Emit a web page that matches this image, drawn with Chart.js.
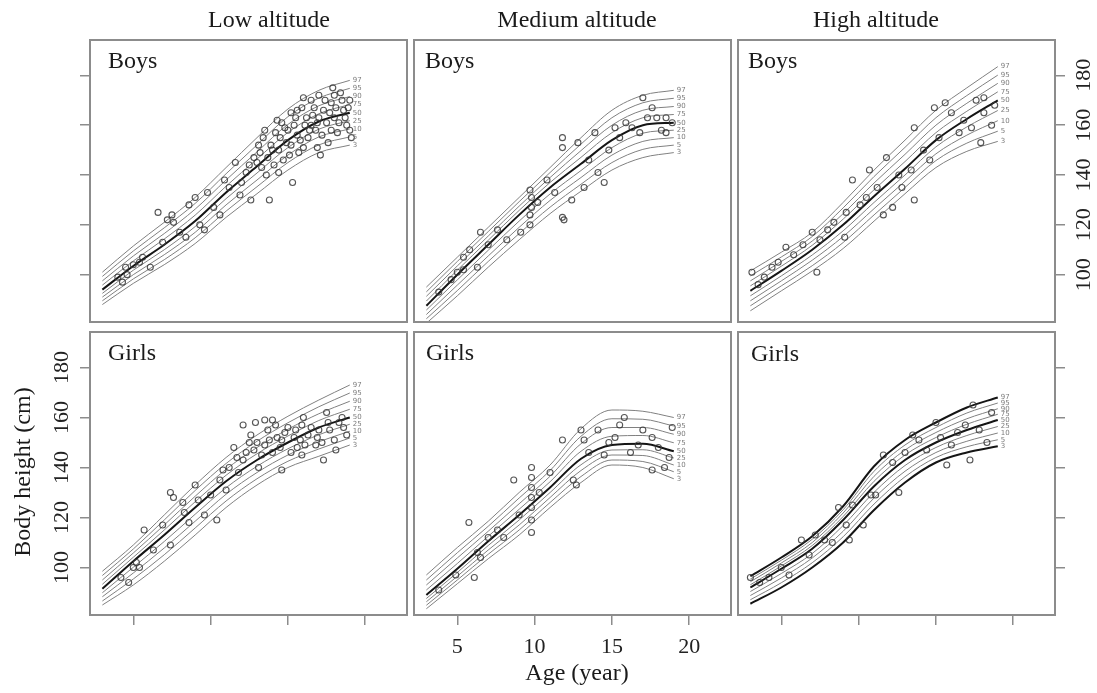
<!DOCTYPE html>
<html><head><meta charset="utf-8">
<script src="https://cdn.jsdelivr.net/npm/chart.js@4.4.1/dist/chart.umd.min.js"></script>
<style>
html,body{margin:0;padding:0;background:#fff;}
#wrap{position:relative;width:1097px;height:693px;overflow:hidden;background:#fff;}
#wrap canvas{position:absolute;left:0;top:0;}
</style></head><body><div id="wrap"></div>
<script>
// ---------- data ----------
const ages = [3, 5, 7, 9, 11, 13, 15, 17, 19];
const centileLabels = ['3', '5', '10', '25', '50', '75', '90', '95', '97'];
const xTicks = [5, 10, 15, 20];
const yTicks = [100, 120, 140, 160, 180];
const columnTitles = ['Low altitude', 'Medium altitude', 'High altitude'];
const rowLabels = ['Boys', 'Girls'];
const yTitle = 'Body height (cm)';
const xTitle = 'Age (year)';

const lowBoysCurves = [
  [88, 96.5, 104, 112.5, 123, 132.5, 142, 149, 152],
  [89.5, 98.3, 106, 114.8, 125.5, 135.3, 145, 152.1, 155.3],
  [91, 100, 108, 117, 128, 138, 148, 155.3, 158.5],
  [92.5, 101.8, 110, 119.3, 130.5, 140.8, 151, 158.4, 161.8],
  [94, 103.5, 112, 121.5, 133, 143.5, 154, 161.5, 165],
  [95.8, 105.5, 114.3, 123.9, 135.5, 146.4, 157.1, 164.6, 168.3],
  [97.5, 107.5, 116.5, 126.3, 138, 149.3, 160.3, 167.8, 171.5],
  [99.3, 109.5, 118.8, 128.6, 140.5, 152.1, 163.4, 170.9, 174.8],
  [101, 111.5, 121, 131, 143, 155, 166.5, 174, 178]
];
const medBoysCurves = [
  [80.5, 91.5, 103, 114, 124.5, 133.5, 142, 147, 149],
  [82.3, 93.6, 105.3, 116.5, 127.1, 136.3, 145, 150.3, 152],
  [84, 95.8, 107.5, 119, 129.8, 139, 148, 153.5, 155],
  [85.8, 97.9, 109.8, 121.5, 132.4, 141.8, 151, 156.8, 158],
  [87.5, 100, 112, 124, 135, 144.5, 154, 160, 161],
  [89.4, 101.8, 113.8, 125.8, 137, 147.1, 157, 163, 164.3],
  [91.3, 103.5, 115.5, 127.5, 139, 149.8, 160, 166, 167.5],
  [93.1, 105.3, 117.3, 129.3, 141, 152.4, 163, 169, 170.8],
  [95, 107, 119, 131, 143, 155, 166, 172, 174]
];
const highBoysCurves = [
  [85.5, 93.5, 101.5, 110.5, 121.5, 132.5, 143, 149.5, 153.5],
  [87.5, 95.5, 103.6, 112.9, 124, 135, 145.8, 152.8, 157.6],
  [89.5, 97.5, 105.8, 115.3, 126.5, 137.5, 148.5, 156, 161.8],
  [91.5, 99.5, 107.9, 117.6, 129, 140, 151.3, 159.3, 165.9],
  [93.5, 101.5, 110, 120, 131.5, 142.5, 154, 162.5, 170],
  [95.5, 103.4, 111.8, 122.3, 134.1, 145.4, 157, 165.6, 173.4],
  [97.5, 105.3, 113.5, 124.5, 136.8, 148.3, 160, 168.8, 176.8],
  [99.5, 107.1, 115.3, 126.8, 139.4, 151.1, 163, 171.9, 180.1],
  [101.5, 109, 117, 129, 142, 154, 166, 175, 183.5]
];
const lowGirlsCurves = [
  [85, 93, 102.5, 113, 124, 133, 140, 144.5, 149],
  [86.6, 95.4, 105.1, 115.8, 126.6, 135.5, 142.5, 147.4, 151.8],
  [88.3, 97.8, 107.8, 118.5, 129.3, 138, 145, 150.3, 154.5],
  [89.9, 100.1, 110.4, 121.3, 131.9, 140.5, 147.5, 153.1, 157.3],
  [91.5, 102.5, 113, 124, 134.5, 143, 150, 156, 160],
  [93.3, 104.1, 115, 126.3, 136.9, 145.5, 152.6, 158.8, 163.3],
  [95, 105.8, 117, 128.5, 139.3, 148, 155.3, 161.5, 166.5],
  [96.8, 107.4, 119, 130.8, 141.6, 150.5, 157.9, 164.3, 169.8],
  [98.5, 109, 121, 133, 144, 153, 160.5, 167, 173]
];
const medGirlsCurves = [
  [83.5, 93.5, 103.5, 113, 124, 134, 141, 140, 135.5],
  [84.9, 95, 105.3, 115, 126, 136.4, 143, 142.4, 138.3],
  [86.3, 96.5, 107, 117, 128, 138.8, 145, 144.8, 141],
  [87.6, 98, 108.8, 119, 130, 141.1, 147, 147.1, 143.8],
  [89, 99.5, 110.5, 121, 132, 143.5, 149, 149.5, 146.5],
  [91, 101.6, 112.5, 123.3, 134.3, 146.5, 152.5, 152.8, 149.9],
  [93, 103.8, 114.5, 125.5, 136.5, 149.5, 156, 156, 153.3],
  [95, 105.9, 116.5, 127.8, 138.8, 152.5, 159.5, 159.3, 156.6],
  [97, 108, 118.5, 130, 141, 155.5, 163, 162.5, 160]
];
const highGirlsCurves = [
  [85.5, 92, 100, 110, 123, 134, 142, 146, 148.5],
  [87.1, 93.9, 101.9, 112.3, 125.4, 136.3, 144, 148.3, 151.1],
  [88.8, 95.8, 103.8, 114.5, 127.8, 138.5, 146, 150.5, 153.8],
  [90.4, 97.6, 105.6, 116.8, 130.1, 140.8, 148, 152.8, 156.4],
  [92, 99.5, 107.5, 119, 132.5, 143, 150, 155, 159],
  [93.1, 100.6, 108.8, 120.4, 134.5, 145, 152, 157.3, 161.3],
  [94.3, 101.8, 110, 121.8, 136.5, 147, 154, 159.5, 163.5],
  [95.4, 102.9, 111.3, 123.1, 138.5, 149, 156, 161.8, 165.8],
  [96.5, 104, 112.5, 124.5, 140.5, 151, 158, 164, 168]
];

const lowBoysPoints = [[4.0,99],[4.3,97],[4.5,103],[4.6,100],[5.0,104],[5.4,105],[5.6,107],[6.1,103],[6.6,125],[6.9,113],[7.2,122],[7.5,124],[7.6,121],[8.0,117],[8.4,115],[8.6,128],[9.0,131],[9.3,120],[9.6,118],[9.8,133],[10.2,127],[10.6,124],[10.9,138],[11.2,135],[11.6,145],[11.9,132],[12.3,141],[12.6,130],[12.8,147],[13.1,152],[13.3,143],[13.6,140],[13.8,130],[14.0,150],[14.3,162],[14.5,155],[14.7,146],[15.0,158],[15.2,152],[15.3,137],[15.5,163],[15.7,149],[15.9,167],[16.1,160],[16.3,155],[16.5,170],[16.6,164],[16.8,158],[17.0,172],[17.1,148],[17.3,166],[17.5,161],[17.6,153],[17.8,169],[18.0,163],[18.2,157],[18.4,173],[18.6,166],[18.8,160],[19.0,170],[19.1,155],[15.6,156],[16.9,151],[14.8,159],[17.9,175],
  [13.0,145],[13.2,149],[13.4,155],[13.7,147],[13.9,152],[14.1,144],[14.2,157],[14.4,150],[14.6,161],[14.9,153],[15.1,148],[15.4,160],[15.6,166],[15.8,154],[16.0,151],[16.2,163],[16.4,158],[16.7,167],[16.9,161],[17.2,156],[17.4,170],[17.7,165],[17.8,158],[18.1,167],[18.3,161],[18.5,170],[18.7,163],[18.9,167],[19.0,158],[16.0,171],[15.2,165],[14.4,141],[12.0,137],[12.5,144],[13.5,158],[17.0,163],[16.5,160],[18.0,172]];
const medBoysPoints = [[3.8,93],[4.6,98],[5.0,101],[5.4,102],[5.4,107],[5.8,110],[6.3,103],[6.5,117],[7.0,112],[7.6,118],[8.2,114],[9.1,117],[9.7,120],[9.7,124],[9.8,127],[9.8,131],[9.7,134],[10.2,129],[10.8,138],[11.3,133],[11.8,155],[11.8,151],[11.8,123],[11.9,122],[12.4,130],[12.8,153],[13.2,135],[13.5,146],[13.9,157],[14.1,141],[14.5,137],[14.8,150],[15.2,159],[15.5,155],[15.9,161],[16.3,159],[16.8,157],[17.0,171],[17.3,163],[17.6,167],[17.9,163],[18.2,158],[18.5,157],[18.5,163],[18.9,161]];
const highBoysPoints = [[3.1,101],[3.5,96],[3.9,99],[4.4,103],[4.8,105],[5.3,111],[5.8,108],[6.4,112],[7.0,117],[7.3,101],[7.5,114],[8.0,118],[8.4,121],[9.1,115],[9.2,125],[9.6,138],[10.1,128],[10.5,131],[10.7,142],[11.2,135],[11.6,124],[11.8,147],[12.2,127],[12.6,140],[12.8,135],[13.4,142],[13.6,130],[13.6,159],[14.2,150],[14.6,146],[14.9,167],[15.2,155],[15.6,169],[16.0,165],[16.5,157],[16.8,162],[17.3,159],[17.6,170],[17.9,153],[18.1,171],[18.1,165],[18.6,160],[18.8,168]];
const lowGirlsPoints = [[4.2,96],[4.7,94],[5.0,100],[5.2,102],[5.4,100],[5.7,115],[6.3,107],[6.9,117],[7.4,109],[7.4,130],[7.6,128],[8.3,122],[8.6,118],[9.2,127],[9.6,121],[10.0,129],[10.4,119],[10.6,135],[11.0,131],[11.5,148],[11.8,138],[12.1,157],[12.1,143],[12.5,150],[12.8,147],[13.1,140],[13.5,159],[13.5,149],[13.7,155],[14.0,146],[14.3,152],[14.6,139],[14.6,151],[15.0,156],[15.4,152],[15.6,148],[15.9,157],[15.9,145],[16.3,153],[16.8,149],[17.0,155],[17.3,143],[17.7,155],[18.0,151],[18.3,158],[18.5,160],[18.8,153],[17.5,162],
  [11.2,140],[11.7,144],[12.3,146],[12.6,153],[13.0,150],[13.3,145],[13.8,151],[14.2,157],[14.5,148],[14.8,154],[15.2,146],[15.5,155],[15.8,151],[16.1,149],[16.5,156],[16.9,152],[17.2,150],[17.6,158],[18.1,147],[18.6,156],[12.9,158],[14.0,159],[16.0,160],[9.0,133],[8.2,126],[10.8,139]];
const medGirlsPoints = [[3.8,91],[4.9,97],[5.75,118],[6.1,96],[6.3,106],[6.5,104],[7.0,112],[7.6,115],[8.0,112],[8.65,135],[9.0,121],[9.8,114],[9.8,119],[9.8,124],[9.8,128],[9.8,132],[9.8,136],[9.8,140],[10.3,130],[11.0,138],[11.8,151],[12.5,135],[12.7,133],[13.0,155],[13.2,151],[13.5,146],[14.1,155],[14.5,145],[14.8,150],[15.2,152],[15.5,157],[15.8,160],[16.2,146],[16.7,149],[17.0,155],[17.6,152],[17.6,139],[18.0,148],[18.4,140],[18.9,156],[18.7,144]];
const highGirlsPoints = [[3.0,96],[3.6,94],[4.2,96],[5.0,100],[5.5,97],[6.3,111],[6.8,105],[7.2,113],[7.8,111],[8.3,110],[8.7,124],[9.2,117],[9.4,111],[9.6,125],[10.3,117],[10.8,129],[11.1,129],[11.6,145],[12.2,142],[12.6,130],[13.0,146],[13.5,153],[13.9,151],[14.4,147],[15.0,158],[15.3,152],[15.7,141],[16.0,149],[16.4,154],[16.9,157],[17.2,143],[17.4,165],[17.8,155],[18.3,150],[18.6,162]];

// ---------- layout ----------
const W = 1097, H = 693;
const SERIF = "'Liberation Serif', 'Times New Roman', serif";
const colLeft = [90, 414, 738], colRight = [407, 731, 1055];
const rowTop = [40, 332], rowBottom = [322, 615];
const Y_AXIS_W = 40, X_AXIS_H = 50;
const panels = [
  {curves: lowBoysCurves,  points: lowBoysPoints,  col:0, row:0, yPos:'left',  yLab:false, xAx:false, xLab:false, lx:108, ly:68},
  {curves: medBoysCurves,  points: medBoysPoints,  col:1, row:0, yPos:null,    yLab:false, xAx:false, xLab:false, lx:425, ly:68},
  {curves: highBoysCurves, points: highBoysPoints, col:2, row:0, yPos:'right', yLab:true,  xAx:false, xLab:false, lx:748, ly:68},
  {curves: lowGirlsCurves, points: lowGirlsPoints, col:0, row:1, yPos:'left',  yLab:true,  xAx:true,  xLab:false, lx:108, ly:360},
  {curves: medGirlsCurves, points: medGirlsPoints, col:1, row:1, yPos:null,    yLab:false, xAx:true,  xLab:true,  lx:426, ly:360},
  {curves: highGirlsCurves,points: highGirlsPoints,col:2, row:1, yPos:'right', yLab:false, xAx:true,  xLab:false, lx:751, ly:361, darkOuter:true}
];
const titlePos = [[269, 27], [577, 27], [876, 27]];

const wrap = document.getElementById('wrap');

function decorPlugin(p, idx) {
  return {
    id: 'decor' + idx,
    afterDatasetsDraw(chart) {
      const ctx = chart.ctx, a = chart.chartArea;
      ctx.save();
      ctx.font = "7px 'DejaVu Sans', sans-serif";
      ctx.fillStyle = 'rgba(110,110,110,0.9)';
      ctx.textBaseline = 'middle';
      ctx.textAlign = 'left';
      for (let i = 0; i < p.curves.length; i++) {
        const pts = chart.getDatasetMeta(i).data;
        const last = pts[pts.length - 1];
        ctx.fillText(centileLabels[i], last.x + 3, last.y);
      }
      ctx.strokeStyle = '#8c8c8c';
      ctx.lineWidth = 2;
      ctx.strokeRect(a.left, a.top, a.right - a.left, a.bottom - a.top);
      ctx.fillStyle = '#1a1a1a';
      ctx.font = '24px ' + SERIF;
      ctx.textBaseline = 'alphabetic';
      ctx.fillText(rowLabels[p.row], p.lx, p.ly);
      if (p.row === 0) {
        ctx.textAlign = 'center';
        ctx.fillText(columnTitles[p.col], titlePos[p.col][0], titlePos[p.col][1]);
      }
      if (p.row === 1 && p.col === 0) {
        ctx.save();
        ctx.translate(30, 472);
        ctx.rotate(-Math.PI / 2);
        ctx.textAlign = 'center';
        ctx.fillText(yTitle, 0, 0);
        ctx.restore();
      }
      if (p.row === 1 && p.col === 1) {
        ctx.textAlign = 'center';
        ctx.fillText(xTitle, 577, 680);
      }
      ctx.restore();
    }
  };
}

panels.forEach((p, idx) => {
  const c = document.createElement('canvas');
  c.width = W; c.height = H;
  c.style.width = W + 'px'; c.style.height = H + 'px';
  wrap.appendChild(c);
  const datasets = p.curves.map((arr, i) => {
    const dark = i === 4 || (p.darkOuter && (i === 0 || i === 8));
    return {
      data: arr.map((v, j) => ({x: ages[j], y: v})),
      showLine: true,
      borderColor: dark ? '#151515' : '#808080',
      borderWidth: dark ? 2 : 1,
      pointRadius: 0,
      cubicInterpolationMode: 'monotone',
      fill: false,
      order: dark ? 1 : 2
    };
  });
  datasets.push({
    data: p.points.map(([x, y]) => ({x, y})),
    showLine: false,
    pointRadius: 3,
    pointBorderWidth: 1.1,
    pointBorderColor: 'rgba(55,55,55,0.85)',
    pointBackgroundColor: 'rgba(255,255,255,0)',
    order: 0
  });
  const xW = p.xAx ? X_AXIS_H : 0;
  const yW = p.yPos ? Y_AXIS_W : 0;
  const pad = {
    left: colLeft[p.col] - (p.yPos === 'left' ? yW : 0),
    right: (W - colRight[p.col]) - (p.yPos === 'right' ? yW : 0),
    top: rowTop[p.row],
    bottom: (H - rowBottom[p.row]) - xW
  };
  const tickGrid = {display: true, drawOnChartArea: false, drawTicks: true, tickLength: 10, color: '#8c8c8c', lineWidth: 1.5};
  new Chart(c, {
    type: 'scatter',
    data: {datasets},
    options: {
      responsive: false,
      animation: false,
      devicePixelRatio: 1,
      events: [],
      layout: {padding: pad},
      plugins: {legend: {display: false}, tooltip: {enabled: false}, title: {display: false}},
      scales: {
        x: {
          type: 'linear', position: 'bottom', min: 2.2, max: 22.7,
          display: p.xAx,
          afterBuildTicks: ax => { ax.ticks = xTicks.map(v => ({value: v})); },
          afterFit: ax => { ax.height = xW; },
          grid: tickGrid,
          border: {display: false},
          ticks: {display: p.xLab, padding: 9, autoSkip: false, maxRotation: 0, minRotation: 0,
                  color: '#222', font: {family: SERIF, size: 22}}
        },
        y: {
          type: 'linear', position: p.yPos || 'left', min: 81, max: 194.2,
          display: !!p.yPos,
          afterBuildTicks: ax => { ax.ticks = yTicks.map(v => ({value: v})); },
          afterFit: ax => { ax.width = yW; },
          grid: tickGrid,
          border: {display: false},
          ticks: {display: p.yLab, padding: p.yPos === 'right' ? 3 : 1, crossAlign: 'center',
                  minRotation: 90, maxRotation: 90, autoSkip: false,
                  color: '#222', font: {family: SERIF, size: 22}}
        }
      }
    },
    plugins: [decorPlugin(p, idx)]
  });
});
</script>
</body></html>
